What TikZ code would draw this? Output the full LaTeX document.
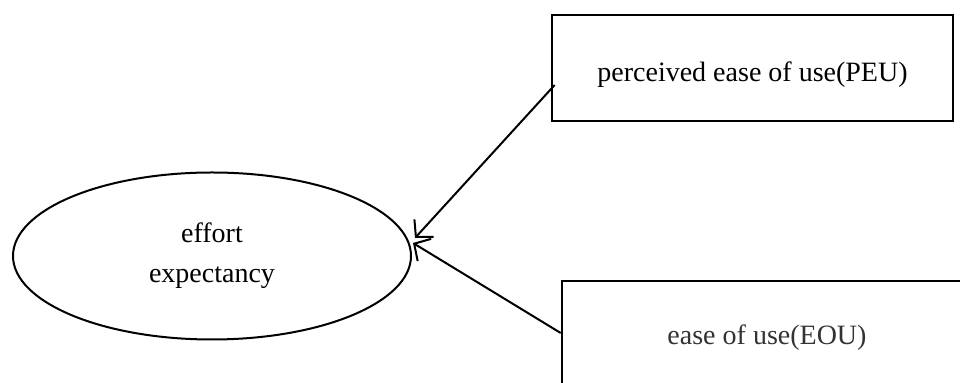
\documentclass[tikz,border=0pt]{standalone}
\usepackage{fontspec}
\setmainfont{Liberation Serif}
\usetikzlibrary{positioning, arrows.meta, calc, shapes.geometric}

\begin{document}
\begin{tikzpicture}[x=0.5pt, y=-0.5pt,
    >={Straight Barb[length=6pt, width=13pt]}, % offene Pfeilspitzen
    font=\fontsize{14}{20}\selectfont,
    construct/.style={draw, ellipse, line width=1pt, minimum width=199pt, minimum height=83.5pt, align=center},
    factor/.style={draw, rectangle, line width=1.3pt, inner sep=0pt}
]
\useasboundingbox (0,0) rectangle (960,383);
\clip (0,0) rectangle (960,383);

% 1. Konstrukt (Ellipse links)
\node[construct] (ee) at (212,256) {effort\\expectancy};

% 2. Die beiden Faktoren (rechts, teils abgeschnitten)
\node[factor, minimum width=200.5pt, minimum height=53pt, text height=17pt, text depth=3pt] (peu) at (752.5,68) {perceived ease of use(PEU)};
\node[factor, minimum width=205pt, minimum height=57pt, text=black!80] (eou) at (767,338) {ease of use(EOU)};

% 3. Pfeile zur Ellipse
\draw[->, line width=1pt] ([xshift=2pt, yshift=-8.5pt]peu.west) -- ([xshift=1.5pt, yshift=9pt]ee.east);
\draw[->, line width=1pt] ([yshift=2.5pt]eou.west) -- ([xshift=0.5pt, yshift=6.5pt]ee.east);

\end{tikzpicture}
\end{document}
